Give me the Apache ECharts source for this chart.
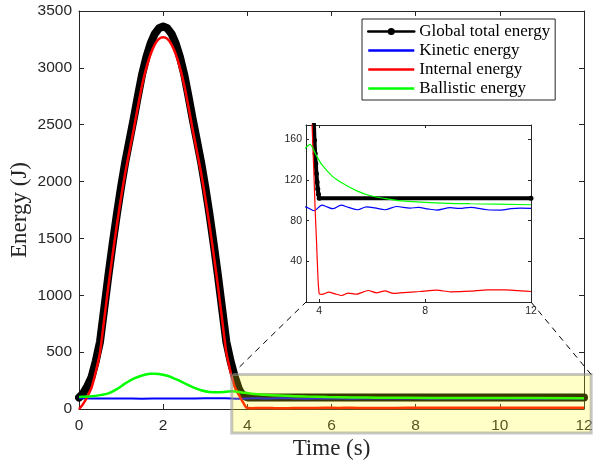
<!DOCTYPE html>
<html><head><meta charset="utf-8">
<script src="https://cdn.jsdelivr.net/npm/echarts@6/dist/echarts.min.js"></script>
<style>html,body{margin:0;padding:0;background:#fff}#c{width:593px;height:462px}</style>
</head><body><div id="c"></div>
<script>
// ---- data ----
const seriesNames = ['Global total energy', 'Kinetic energy', 'Internal energy', 'Ballistic energy'];

const tTotal = [0,0.1,0.2,0.3,0.4,0.5,0.6,0.7,0.8,0.9,1.0,1.1,1.2,1.3,1.4,1.5,1.6,1.7,1.8,1.9,2.0,2.1,2.2,2.3,2.4,2.5,2.6,2.7,2.8,2.9,3.0,3.1,3.2,3.3,3.4,3.5,3.6,3.7,3.75,3.8,3.82,3.845,3.87,3.895,3.92,3.945,3.97,4.0,12];
const total  = [100,138,203,283,423,593,883,1178,1453,1713,1953,2173,2363,2553,2753,2943,3093,3213,3298,3348,3363,3348,3298,3213,3093,2943,2753,2553,2363,2173,1953,1713,1453,1178,883,593,423,285,230,175,159,146,136,126,118,111,106,102,102];

const tKin = [0,0.5,1,1.5,2,2.5,3,3.47,3.81,4.1,4.3,4.51,4.83,5.1,5.46,5.78,6.1,6.48,6.92,7.43,7.75,8.1,8.44,8.95,9.3,9.71,10.35,10.86,11.24,11.6,12];
const kinetic = [94,92,93,91,93,92,94,93.6,89.7,95.2,93.5,91.7,95.2,93,90.7,93.6,92.5,90.7,93.9,92.3,93,91.5,90.4,92.7,92,93,90.7,90.4,91.7,92.2,92];

const tInt = [0,0.1,0.2,0.3,0.4,0.5,0.6,0.7,0.8,0.9,1.0,1.1,1.2,1.3,1.4,1.5,1.6,1.7,1.8,1.9,2.0,2.1,2.2,2.3,2.4,2.5,2.6,2.7,2.8,2.9,3.0,3.1,3.2,3.3,3.4,3.5,3.6,3.7,3.75,3.8,3.85,3.9,3.95,4.0,4.1,4.36,4.6,4.85,5.1,5.4,5.85,6.16,6.48,6.8,7.18,7.8,8.44,8.95,9.7,10.35,11,12];
const internal = [0,45,110,190,330,500,790,1085,1360,1620,1860,2080,2270,2460,2660,2850,3000,3120,3205,3255,3270,3255,3205,3120,3000,2850,2660,2460,2270,2080,1860,1620,1360,1085,790,500,330,195,160,125,88,58,25,8,7.4,9.7,8,6.4,8.7,7.7,11.3,9,11,8.4,9.3,10.3,11.6,10,10.6,12,12,10.3];

const tBal = [0,0.3,0.5,0.7,0.9,1.1,1.3,1.5,1.7,1.8,1.9,2.1,2.3,2.5,2.7,2.9,3.1,3.3,3.5,3.65,3.87,4.1,4.5,4.9,5.4,5.9,6.5,7.1,8.4,9.7,12];
const ballistic = [105,112,122,138,175,225,268,295,310,311,308,292,262,228,192,165,150,148,152,155,145,135,123.5,116.4,109.5,104.7,101.7,99.5,97.5,96.6,95.6];

const insetXTicks = [4, 8, 12];
const insetYTicks = [40, 80, 120, 160];

// zoomed region (annotation), in data units of the main axes
const zoomT = [3.63, 12.17];
const zoomE = [-210, 303];

const zip = (a, b) => a.map((v, i) => [v, b[i]]);
const txt = '#262626';
const sans = 'Liberation Sans, Arial, sans-serif';
const serif = 'Liberation Serif, Times New Roman, serif';
const plain = v => String(v);

const chart = echarts.init(document.getElementById('c'), null, {renderer: 'canvas'});

const mainAxisBase = {
  type: 'value', splitLine: {show: false},
  axisLine: {show: true, onZero: false, lineStyle: {color: txt, width: 1}},
  axisTick: {show: true, inside: true, length: 5, lineStyle: {color: txt}}
};

const insetAxisBase = {
  type: 'value', splitLine: {show: false},
  axisLine: {show: true, onZero: false, lineStyle: {color: txt, width: 1}},
  axisTick: {show: true, inside: true, length: 3, lineStyle: {color: txt}}
};

const option = {
  animation: false,
  backgroundColor: '#fff',
  grid: [
    {left: 79, right: 9, top: 11, bottom: 53, containLabel: false, outerBoundsMode: 'none'},
    {left: 306, width: 225, top: 125, height: 177, show: true, backgroundColor: '#fff', borderWidth: 0,
      containLabel: false, outerBoundsMode: 'none'}
  ],
  xAxis: [
    Object.assign({}, mainAxisBase, {gridIndex: 0, position: 'bottom', min: 0, max: 12, interval: 2,
      axisLabel: {fontSize: 15.5, color: txt, fontFamily: sans, margin: 9, formatter: plain},
      name: 'Time (s)', nameLocation: 'middle', nameGap: 28, nameMoveOverlap: false,
      nameTextStyle: {fontFamily: serif, fontSize: 23, color: txt}}),
    Object.assign({}, mainAxisBase, {gridIndex: 0, position: 'top', min: 0, max: 12, interval: 2,
      axisLabel: {show: false}}),
    Object.assign({}, insetAxisBase, {gridIndex: 1, position: 'bottom', min: 3.5, max: 12,
      axisTick: Object.assign({}, insetAxisBase.axisTick, {customValues: insetXTicks}),
      axisLabel: {fontSize: 10.5, color: txt, fontFamily: sans, margin: 4, customValues: insetXTicks, formatter: plain}}),
    Object.assign({}, insetAxisBase, {gridIndex: 1, position: 'top', min: 3.5, max: 12,
      axisTick: Object.assign({}, insetAxisBase.axisTick, {customValues: insetXTicks}),
      axisLabel: {show: false}})
  ],
  yAxis: [
    Object.assign({}, mainAxisBase, {gridIndex: 0, position: 'left', min: 0, max: 3500, interval: 500,
      axisLabel: {fontSize: 15.5, color: txt, fontFamily: sans, margin: 7, formatter: plain},
      name: 'Energy (J)', nameLocation: 'middle', nameGap: 48, nameMoveOverlap: false,
      nameTextStyle: {fontFamily: serif, fontSize: 23, color: txt}}),
    Object.assign({}, mainAxisBase, {gridIndex: 0, position: 'right', min: 0, max: 3500, interval: 500,
      axisLabel: {show: false}}),
    Object.assign({}, insetAxisBase, {gridIndex: 1, position: 'left', min: 0, max: 174,
      axisTick: Object.assign({}, insetAxisBase.axisTick, {customValues: insetYTicks}),
      axisLabel: {fontSize: 10.5, color: txt, fontFamily: sans, margin: 4, customValues: insetYTicks, formatter: plain}}),
    Object.assign({}, insetAxisBase, {gridIndex: 1, position: 'right', min: 0, max: 174,
      axisTick: Object.assign({}, insetAxisBase.axisTick, {customValues: insetYTicks}),
      axisLabel: {show: false}})
  ],
  legend: {
    data: [
      {name: seriesNames[0]},
      {name: seriesNames[1], itemStyle: {opacity: 0}},
      {name: seriesNames[2], itemStyle: {opacity: 0}},
      {name: seriesNames[3], itemStyle: {opacity: 0}}
    ],
    orient: 'vertical', left: 362, top: 19,
    padding: [3, 5, 2, 5], itemGap: 0,
    itemWidth: 46, itemHeight: 9,
    backgroundColor: '#fff', borderColor: txt, borderWidth: 1,
    lineStyle: {width: 2.5},
    textStyle: {fontFamily: serif, fontSize: 17, color: '#000', lineHeight: 19},
    selectedMode: false
  },
  series: [
    {name: seriesNames[0], type: 'line', xAxisIndex: 0, yAxisIndex: 0, data: zip(tTotal, total),
      symbol: 'circle', symbolSize: 7, showSymbol: false, itemStyle: {color: '#000'},
      lineStyle: {color: '#000', width: 8, cap: 'round', join: 'round'}, z: 2},
    {name: seriesNames[1], type: 'line', xAxisIndex: 0, yAxisIndex: 0, data: zip(tKin, kinetic),
      symbol: 'none', smooth: 0.3, lineStyle: {color: '#0000ff', width: 2}, itemStyle: {color: '#0000ff'}, z: 3},
    {name: seriesNames[2], type: 'line', xAxisIndex: 0, yAxisIndex: 0, data: zip(tInt, internal),
      symbol: 'none', smooth: 0.2, lineStyle: {color: '#ff0000', width: 2.5}, itemStyle: {color: '#ff0000'}, z: 4},
    {name: seriesNames[3], type: 'line', xAxisIndex: 0, yAxisIndex: 0, data: zip(tBal, ballistic),
      symbol: 'none', smooth: 0.3, lineStyle: {color: '#00ff00', width: 2.5}, itemStyle: {color: '#00ff00'}, z: 5},

    {name: seriesNames[0], type: 'line', xAxisIndex: 2, yAxisIndex: 2, data: zip(tTotal, total), clip: true,
      symbol: 'circle', symbolSize: 5, showSymbol: true, showAllSymbol: true, itemStyle: {color: '#000'},
      lineStyle: {color: '#000', width: 4}, z: 12},
    {name: seriesNames[1], type: 'line', xAxisIndex: 2, yAxisIndex: 2, data: zip(tKin, kinetic), clip: true,
      symbol: 'none', smooth: 0.3, lineStyle: {color: '#0000ff', width: 1.2}, z: 13},
    {name: seriesNames[2], type: 'line', xAxisIndex: 2, yAxisIndex: 2, data: zip(tInt, internal), clip: true,
      symbol: 'none', smooth: 0.2, lineStyle: {color: '#ff0000', width: 1.2}, z: 14},
    {name: seriesNames[3], type: 'line', xAxisIndex: 2, yAxisIndex: 2, data: zip(tBal, ballistic), clip: true,
      symbol: 'none', smooth: 0.3, lineStyle: {color: '#00ff00', width: 1.2}, z: 15}
  ]
};

chart.setOption(option);

// zoom box + connector lines, positioned through the axes
const p0 = chart.convertToPixel({gridIndex: 0}, [zoomT[0], zoomE[1]]);
const p1 = chart.convertToPixel({gridIndex: 0}, [zoomT[1], zoomE[0]]);
const i0 = chart.convertToPixel({gridIndex: 1}, [3.5, 0]);
const i1 = chart.convertToPixel({gridIndex: 1}, [12, 0]);

chart.setOption({
  graphic: [
    {type: 'rect', z: 50, shape: {x: p0[0], y: p0[1], width: p1[0] - p0[0], height: p1[1] - p0[1]},
      style: {fill: 'rgba(255,255,0,0.22)', stroke: 'rgba(150,150,150,0.55)', lineWidth: 3}},
    {type: 'line', z: 50, shape: {x1: p0[0], y1: p0[1], x2: i0[0], y2: i0[1]},
      style: {stroke: '#000', lineWidth: 1, lineDash: [6, 5]}},
    {type: 'line', z: 50, shape: {x1: p1[0], y1: p0[1], x2: i1[0], y2: i1[1]},
      style: {stroke: '#000', lineWidth: 1, lineDash: [6, 5]}}
  ]
});
</script>
</body></html>
